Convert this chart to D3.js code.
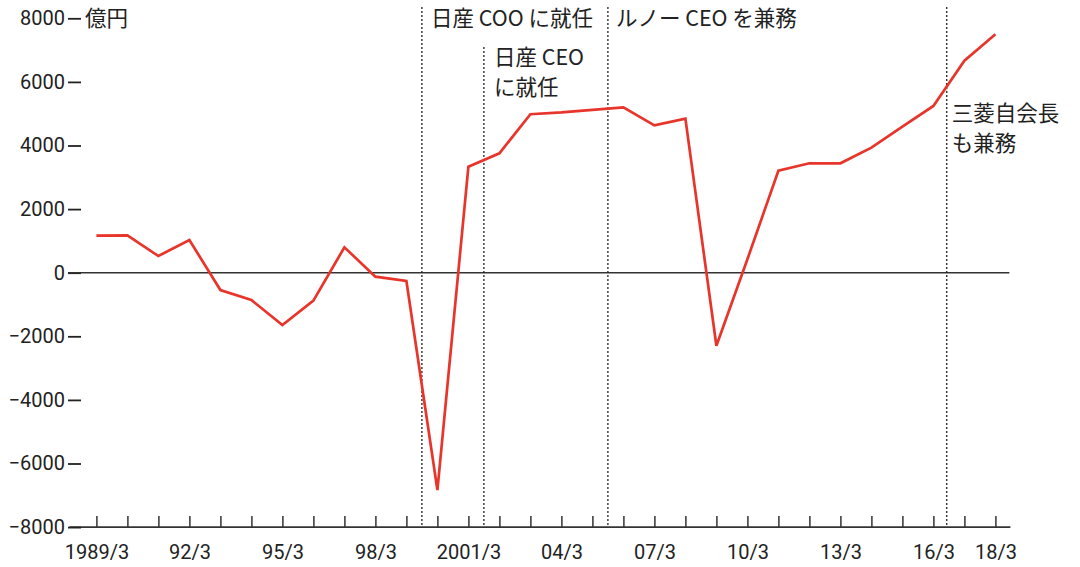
<!DOCTYPE html>
<html>
<head>
<meta charset="utf-8">
<script src="https://cdn.jsdelivr.net/npm/d3@7"></script>
<style>
  body { margin: 0; background: #fff; }
  svg { display: block; }
  .tick text { font-family: Roboto, "Noto Sans", sans-serif; font-size: 20px; fill: #222; }
  .note { font-family: "Noto Sans CJK JP", sans-serif; font-size: 21.5px; fill: #222; }
</style>
</head>
<body>
<script>
// fiscal years ending March, net income (億円)
var years = d3.range(1989, 2019);
var netIncome = [1164, 1176, 525, 1028, -544, -859, -1645, -880, 799, -126,
                 -261, -6834, 3334, 3755, 4982, 5040, 5120, 5201, 4635, 4845,
                 -2296, 423, 3208, 3440, 3440, 3931, 4592, 5243, 6667, 7497];

var yTicks = [-8000, -6000, -4000, -2000, 0, 2000, 4000, 6000, 8000];
var labelYears = [1989, 1992, 1995, 1998, 2001, 2004, 2007, 2010, 2013, 2016, 2018];
var labelText = ["1989/3", "92/3", "95/3", "98/3", "2001/3", "04/3", "07/3", "10/3", "13/3", "16/3", "18/3"];

// events: when, and the note text
var eventDates = [1999.5, 2001.5, 2005.5, 2016.43];
var eventNotes = [["日産 COO に就任"], ["日産 CEO", "に就任"], ["ルノー CEO を兼務"], ["三菱自会長", "も兼務"]];

var svgWidth = 1080;
var svgHeight = 567;

var svg = d3.select("body")
  .append("svg")
  .attr("width", svgWidth)
  .attr("height", svgHeight);

var x = d3.scaleLinear().domain([1989, 2018]).range([96.4, 995.4]);
var y = d3.scaleLinear().domain([-8000, 8000]).range([527.1, 18.3]);

// bottom axis (ticks point up)
var labelMap = {};
labelYears.forEach(function(yr, i) { labelMap[yr] = labelText[i]; });

var xAxis = svg.append("g")
  .attr("transform", `translate(0, ${y(-8000)})`)
  .call(d3.axisBottom(x)
    .tickValues(years)
    .tickSize(-11)
    .tickPadding(18)
    .tickFormat(d => labelMap[d] || ""));
xAxis.select(".domain").remove();
xAxis.selectAll(".tick line").attr("stroke", "#333").attr("stroke-width", 1.5);

svg.append("line")
  .attr("x1", x(1989) - 27)
  .attr("x2", x(2018) + 15)
  .attr("y1", y(-8000))
  .attr("y2", y(-8000))
  .attr("stroke", "#333")
  .attr("stroke-width", 1.6);

// left axis, no line, dash after each number
var yAxis = svg.append("g")
  .attr("transform", "translate(81, 0)")
  .call(d3.axisLeft(y)
    .tickValues(yTicks)
    .tickSize(13)
    .tickPadding(3)
    .tickFormat(d3.format("d")));
yAxis.select(".domain").remove();
yAxis.selectAll(".tick line").attr("stroke", "#222").attr("stroke-width", 1.8);

svg.append("text")
  .attr("class", "note")
  .attr("x", 85)
  .attr("y", y(8000))
  .attr("dy", "0.36em")
  .text("億円");

// zero line
svg.append("line")
  .attr("x1", 68)
  .attr("x2", x(2018) + 14)
  .attr("y1", y(0))
  .attr("y2", y(0))
  .attr("stroke", "#333")
  .attr("stroke-width", 1.6);

// event lines + notes
var noteTop = [7, 47, 7, 7];
var noteX = [9, 10, 8, 5];
var noteY = [18, 57, 18, 113];

eventDates.forEach(function(d, i) {
  svg.append("line")
    .attr("x1", x(d))
    .attr("x2", x(d))
    .attr("y1", noteTop[i])
    .attr("y2", y(-8000))
    .attr("stroke", "#222")
    .attr("stroke-width", 1.3)
    .attr("stroke-dasharray", "2,2");

  var t = svg.append("text")
    .attr("class", "note")
    .attr("x", x(d) + noteX[i])
    .attr("y", noteY[i]);
  eventNotes[i].forEach(function(line, j) {
    t.append("tspan")
      .attr("x", x(d) + noteX[i])
      .attr("y", noteY[i] + j * 30)
      .attr("dy", "0.36em")
      .text(line);
  });
});

// the series
var line = d3.line()
  .x((d, i) => x(years[i]))
  .y(d => y(d));

svg.append("path")
  .datum(netIncome)
  .attr("fill", "none")
  .attr("stroke", "#e8352b")
  .attr("stroke-width", 2.7)
  .attr("stroke-linejoin", "miter")
  .attr("d", line);
</script>
</body>
</html>
